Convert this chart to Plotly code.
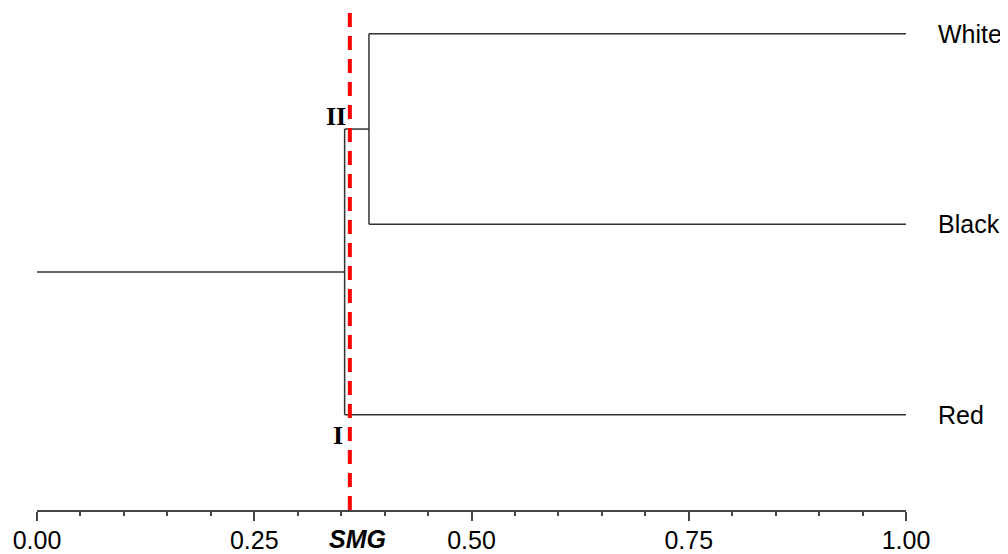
import plotly.graph_objects as go

# ---- data ----
leaves = ["White", "Black", "Red"]
leaf_pos = [3, 2, 1]
# merges: (child_a, child_b, similarity, label)
merge_children = [("White", "Black"), ("II", "Red")]
merge_similarity = [0.382, 0.354]
merge_labels = ["II", "I"]
smg_value = 0.36
tick_vals = [0.0, 0.25, 0.5, 0.75, 1.0]
tick_text = ["0.00", "0.25", "0.50", "0.75", "1.00"]

# ---- build dendrogram segments ----
node_x = {name: 1.0 for name in leaves}
node_y = {name: y for name, y in zip(leaves, leaf_pos)}
xs, ys = [], []
for (a, b), sim, lab in zip(merge_children, merge_similarity, merge_labels):
    for c in (a, b):
        xs += [node_x[c], sim, None]
        ys += [node_y[c], node_y[c], None]
    xs += [sim, sim, None]
    ys += [node_y[a], node_y[b], None]
    node_x[lab] = sim
    node_y[lab] = (node_y[a] + node_y[b]) / 2
root = merge_labels[-1]
xs += [0.0, node_x[root], None]
ys += [node_y[root], node_y[root], None]

Y0, Y1 = 0.5, 3.125

fig = go.Figure()
fig.add_trace(go.Scatter(x=xs, y=ys, mode="lines",
                         line=dict(color="#333333", width=1.5),
                         hoverinfo="skip", showlegend=False))
fig.add_trace(go.Scatter(x=[smg_value, smg_value], y=[Y0, Y1], mode="lines",
                         line=dict(color="#ff0000", width=4, dash="14px,9px"),
                         hoverinfo="skip", showlegend=False))

annotations = []
for name in leaves:
    annotations.append(dict(x=1.0, y=node_y[name], xref="x", yref="y",
                            text=name, showarrow=False, xanchor="left",
                            yanchor="middle", xshift=30,
                            font=dict(family="Liberation Sans, Arial", size=25, color="black")))
# cluster labels (placed at the ends of cluster I's vertical bar)
annotations.append(dict(x=node_x["I"], y=node_y["II"], xref="x", yref="y",
                        text="<b>II</b>", showarrow=False, xanchor="right",
                        yanchor="bottom", xshift=3, yshift=-4,
                        font=dict(family="Liberation Serif, Times New Roman", size=26, color="black")))
annotations.append(dict(x=node_x["I"], y=node_y["Red"], xref="x", yref="y",
                        text="<b>I</b>", showarrow=False, xanchor="right",
                        yanchor="top", xshift=0, yshift=-4,
                        font=dict(family="Liberation Serif, Times New Roman", size=26, color="black")))
annotations.append(dict(x=0.3688, y=0, xref="x", yref="paper",
                        text="<b><i>SMG</i></b>", showarrow=False, xanchor="center",
                        yanchor="middle", yshift=-29,
                        font=dict(family="Liberation Sans, Arial", size=25, color="black")))

# page body has an 8px default margin; figure is sized/offset to compensate
fig.update_layout(
    width=1000, height=546,
    margin=dict(l=29, r=102, t=2, b=44, autoexpand=False),
    plot_bgcolor="white", paper_bgcolor="white",
    annotations=annotations,
    xaxis=dict(range=[0, 1], tickvals=tick_vals, ticktext=tick_text,
               showgrid=False, zeroline=False, showline=True,
               linecolor="#444444", linewidth=1.5,
               ticks="outside", ticklen=9, tickwidth=1.5, tickcolor="#444444",
               ticklabelstandoff=-2,
               tickfont=dict(family="Liberation Sans, Arial", size=25, color="black"),
               minor=dict(dtick=0.05, tick0=0, ticks="outside", ticklen=4,
                          tickwidth=1.5, tickcolor="#444444", showgrid=False),
               automargin=False, fixedrange=True),
    yaxis=dict(range=[Y0, Y1], visible=False, showgrid=False, zeroline=False,
               fixedrange=True),
)

fig.write_html("out.html")
